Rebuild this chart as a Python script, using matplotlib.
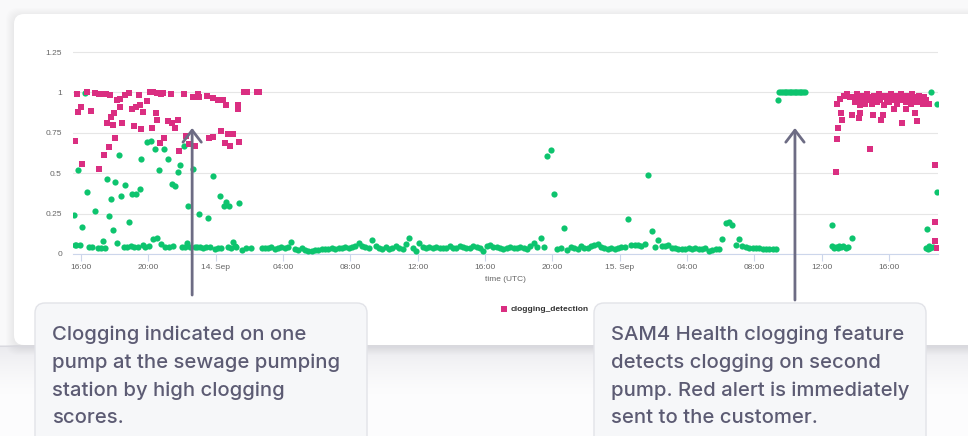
import numpy as np
import matplotlib as mpl
mpl.use("agg")
import matplotlib.pyplot as plt
from matplotlib.patches import FancyBboxPatch


W, H = 968, 436

PINK = "#da2e81"
GREEN = "#0dc46e"
TEXT = "#5c5b73"
ARROW = "#6d6c84"

# hours since 13 Sep 00:00 (UTC)
x_ticks = [16, 20, 24, 28, 32, 36, 40, 44, 48, 52, 56, 60, 64]
x_tick_labels = ["16:00", "20:00", "14. Sep", "04:00", "08:00", "12:00", "16:00",
                 "20:00", "15. Sep", "04:00", "08:00", "12:00", "16:00"]
y_ticks = [0, 0.25, 0.5, 0.75, 1, 1.25]
y_tick_labels = ["0", "0.25", "0.5", "0.75", "1", "1.25"]

# clogging_detection, first pump (13-14 Sep)
pink_early_h = [15.64, 15.78, 15.84, 16.02, 16.08, 16.38, 16.58, 16.84, 17.08, 17.28,
                17.50, 17.74, 17.08, 17.34, 17.64, 17.54, 17.88, 17.80, 17.98, 18.04,
                18.14, 18.30, 18.34, 18.44, 18.60, 18.84, 19.04, 19.24, 19.14, 19.44,
                19.50, 19.58, 19.70, 20.10, 20.30, 20.50, 20.74, 19.94, 20.24, 20.44,
                20.54, 20.70, 20.90, 20.84, 21.14, 21.34, 21.40, 21.58, 21.74, 21.84,
                22.10, 22.24, 22.44, 22.64, 22.74, 22.94, 23.00, 23.50, 23.58, 23.84,
                23.84, 24.14, 24.34, 24.44, 24.30, 24.54, 24.64, 24.74, 24.82, 25.04,
                25.30, 25.34, 25.40, 25.68, 25.88, 26.44, 26.58]
pink_early_v = [0.70, 0.99, 0.88, 0.91, 0.555, 1.0, 0.886, 0.995, 0.99, 0.99,
                0.99, 0.985, 0.525, 0.61, 0.66, 0.81, 0.80, 0.845, 0.87, 0.72,
                0.95, 0.96, 0.91, 0.81, 0.985, 0.995, 0.90, 0.91, 0.79, 0.985,
                0.925, 0.775, 0.88, 1.0, 1.0, 0.995, 0.99, 0.945, 0.78, 0.875,
                0.83, 0.685, 0.715, 0.995, 0.82, 0.99, 0.81, 0.78, 0.83, 0.64,
                0.99, 0.73, 0.68, 0.97, 0.67, 0.99, 0.97, 0.98, 0.72, 0.725,
                0.965, 0.95, 0.95, 0.955, 0.76, 0.685, 0.92, 0.745, 0.67, 0.74,
                0.92, 0.895, 0.69, 1.0, 1.0, 1.0, 1.0]

# clogging_detection, second pump (15 Sep afternoon)
pink_late_h = [60.83, 60.89, 60.93, 60.99, 61.09, 61.13, 61.23, 61.33, 61.52, 61.70,
               61.82, 62.20, 62.30, 62.87, 63.07, 63.55, 63.67, 64.30, 64.76, 65.00,
               65.53, 65.65, 66.38, 66.76, 66.76, 66.72, 66.84]
pink_late_v = [0.507, 0.714, 0.93, 0.78, 0.96, 0.87, 0.83, 0.98, 0.99, 0.97,
               0.86, 0.84, 0.875, 0.652, 0.86, 0.83, 0.86, 0.90, 0.81, 0.90,
               0.87, 0.82, 0.93, 0.55, 0.197, 0.08, 0.04]
pink_cluster_start, pink_cluster_step = 61.9, 0.1
pink_cluster_v = [0.97, 0.94, 0.99, 0.95, 0.92, 0.98, 0.96, 0.93, 0.99, 0.95, 0.97,
                  0.93, 0.98, 0.96, 0.94, 0.99, 0.95, 0.97, 0.92, 0.98, 0.96, 0.94,
                  0.99, 0.97, 0.95, 0.98, 0.93, 0.96, 0.99, 0.95, 0.97, 0.94, 0.98,
                  0.96, 0.93, 0.99, 0.95, 0.97, 0.94, 0.98, 0.95, 0.93, 0.97, 0.95]

# second series (green), scattered part 13 Sep
green_early_h = [15.58, 15.62, 15.72, 15.80, 15.94, 16.04, 16.24, 16.38, 16.50, 16.66,
                 16.82, 16.98, 17.16, 17.30, 17.44, 17.54, 17.64, 17.78, 17.88, 18.02,
                 18.14, 18.24, 18.40, 18.54, 18.60, 18.72, 18.84, 18.96, 19.04, 19.14,
                 19.24, 19.36, 19.50, 19.58, 19.70, 19.82, 19.94, 20.06, 20.18, 20.30,
                 20.40, 20.54, 20.64, 20.74, 20.90, 20.98, 21.14, 21.22, 21.38, 21.46,
                 21.60, 21.74, 21.88, 21.98, 22.10, 22.20, 22.28, 22.38, 22.48, 22.68,
                 22.76, 22.86, 22.98, 23.08, 23.24, 23.40, 23.54, 23.68, 23.86, 23.98,
                 24.14, 24.24, 24.34, 24.50, 24.64, 24.72, 24.80, 24.90, 25.04, 25.12,
                 25.20, 25.38, 25.54, 25.80, 26.10, 26.74]
green_early_v = [0.24, 0.054, 0.054, 0.52, 0.054, 0.17, 0.995, 0.385, 0.043, 0.043,
                 0.265, 0.037, 0.040, 0.079, 0.037, 0.465, 0.235, 0.34, 0.15, 0.445,
                 0.068, 0.61, 0.36, 0.043, 0.43, 0.043, 0.20, 0.048, 0.37, 0.045,
                 0.37, 0.043, 0.405, 0.585, 0.058, 0.041, 0.695, 0.048, 0.70, 0.093,
                 0.65, 0.099, 0.52, 0.062, 0.65, 0.041, 0.59, 0.041, 0.435, 0.048,
                 0.42, 0.51, 0.55, 0.043, 0.67, 0.045, 0.068, 0.30, 0.043, 0.525,
                 0.041, 0.045, 0.245, 0.043, 0.037, 0.041, 0.22, 0.041, 0.48, 0.031,
                 0.040, 0.36, 0.037, 0.30, 0.32, 0.043, 0.30, 0.037, 0.072, 0.050,
                 0.041, 0.315, 0.027, 0.037, 0.037, 0.037]

# green baseline, 12-minute readings from 14 Sep 02:54
green_base_start, green_base_step = 26.9, 0.2
green_base_v = [0.037, 0.037, 0.043, 0.033, 0.037, 0.041, 0.037, 0.045, 0.072, 0.033,
                0.027, 0.037, 0.025, 0.017, 0.020, 0.025, 0.027, 0.030, 0.033, 0.030,
                0.037, 0.033, 0.040, 0.037, 0.043, 0.040, 0.045, 0.050, 0.070, 0.050,
                0.045, 0.040, 0.089, 0.050, 0.040, 0.033, 0.045, 0.030, 0.040, 0.050,
                0.037, 0.030, 0.060, 0.100, 0.040, 0.020, 0.068, 0.045, 0.040, 0.045,
                0.040, 0.043, 0.037, 0.035, 0.040, 0.047, 0.035, 0.040, 0.050, 0.045,
                0.037, 0.040, 0.048, 0.045, 0.035, 0.020, 0.050, 0.055, 0.043, 0.045,
                0.040, 0.033, 0.040, 0.045, 0.040, 0.037, 0.045, 0.040, 0.033, 0.050,
                0.070, 0.045, 0.100, 0.045, 0.607, 0.644, 0.373, 0.030, 0.035, 0.160,
                0.025, 0.045, 0.035, 0.030, 0.050, 0.040, 0.035, 0.050, 0.055, 0.064,
                0.045, 0.035, 0.030, 0.035, 0.033, 0.040, 0.045, 0.043, 0.217, 0.058,
                0.055, 0.058, 0.050, 0.060, 0.487, 0.145, 0.043, 0.085, 0.048, 0.050,
                0.055, 0.040, 0.035, 0.030, 0.033, 0.030, 0.035, 0.030, 0.040, 0.033,
                0.028, 0.035, 0.017, 0.025, 0.030, 0.030, 0.095, 0.190, 0.200, 0.180,
                0.056, 0.095, 0.050, 0.045, 0.040, 0.038, 0.035, 0.035, 0.033, 0.030,
                0.033, 0.030, 0.033]

# green plateau (second pump clogging) and late points
green_late_h = [57.43, 57.50, 57.60, 57.70, 57.80, 57.90, 58.00, 58.10, 58.20, 58.30,
                58.40, 58.50, 58.60, 58.70, 58.80, 58.90, 59.00,
                60.60, 60.65, 60.75, 60.85, 60.95, 61.05, 61.15, 61.30, 61.45, 61.60,
                61.82, 66.20, 66.25, 66.30, 66.38, 66.45, 66.52, 66.60, 66.84, 66.88]
green_late_v = [0.953, 1.0, 1.0, 1.0, 1.0, 1.0, 1.0, 1.0, 1.0, 1.0,
                1.0, 1.0, 1.0, 1.0, 1.0, 1.0, 1.0,
                0.18, 0.05, 0.035, 0.045, 0.04, 0.05, 0.045, 0.05, 0.04, 0.045,
                0.10, 0.04, 0.155, 0.03, 0.05, 0.035, 1.0, 0.045, 0.926, 0.383]

note_left = "Clogging indicated on one\npump at the sewage pumping\nstation by high clogging\nscores."
note_right = ("SAM4 Health clogging feature\ndetects clogging on second\n"
              "pump. Red alert is immediately\nsent to the customer.")

x_min, x_max = 15.52, 66.92
y_min, y_max = 0.0, 1.27


fig = plt.figure(figsize=(W / 100, H / 100), dpi=100)
fig.patch.set_facecolor("#f9f9fa")

# background layer in pixel coordinates: card, shadows
bg = fig.add_axes([0, 0, 1, 1], zorder=0)
bg.set_xlim(0, W)
bg.set_ylim(H, 0)
bg.axis("off")

bg.add_patch(plt.Rectangle((0, 346), W, 90, facecolor="#fcfcfd", edgecolor="none", zorder=0))
grad = np.ones((50, 1, 4))
grad[..., :3] = np.array([0.90, 0.90, 0.92])
grad[:, 0, 3] = np.linspace(0.85, 0.0, 50) ** 1.5
bg.imshow(grad, extent=(0, W, 396, 346), aspect="auto", zorder=0.5)

for k in range(1, 9):
    bg.add_patch(FancyBboxPatch((14 - k, 14 - k + 2), 1000 + 2 * k, 331 + 2 * k,
                                boxstyle="round,pad=0,rounding_size=12",
                                facecolor="#000000", edgecolor="none", alpha=0.006,
                                zorder=1))
bg.add_patch(FancyBboxPatch((14, 14), 1000, 331, boxstyle="round,pad=0,rounding_size=10",
                            facecolor="white", edgecolor="none", zorder=2))
bg.plot([0, W], [345.5, 345.5], color="#d9d9df", lw=0.8, zorder=1.5)
bg.set_xlim(0, W)
bg.set_ylim(H, 0)

# chart
ax_l, ax_r, ax_b = 73, 938, 254
ax_h = (y_max - y_min) * 161.6
ax = fig.add_axes([ax_l / W, 1 - ax_b / H, (ax_r - ax_l) / W, ax_h / H], zorder=1)
ax.set_facecolor("none")

pink_cluster_h = pink_cluster_start + pink_cluster_step * np.arange(len(pink_cluster_v))
green_base_h = green_base_start + green_base_step * np.arange(len(green_base_v))

green_h = np.concatenate([green_early_h, green_base_h, green_late_h])
green_v = np.concatenate([green_early_v, green_base_v, green_late_v])
pink_h = np.concatenate([pink_early_h, pink_late_h, pink_cluster_h])
pink_v = np.concatenate([pink_early_v, pink_late_v, pink_cluster_v])

ax.scatter(green_h, green_v, s=20, marker="o", color=GREEN, linewidths=0, zorder=3)
pink_sc = ax.scatter(pink_h, pink_v, s=24, marker="s", color=PINK, linewidths=0, zorder=4)

ax.set_xlim(x_min, x_max)
ax.set_ylim(y_min, y_max)
ax.set_xticks(x_ticks)
ax.set_xticklabels(x_tick_labels)
ax.set_yticks(y_ticks)
ax.set_yticklabels(y_tick_labels)
for s in ["top", "right", "left"]:
    ax.spines[s].set_visible(False)
ax.spines["bottom"].set_color("#ccd6eb")
ax.spines["bottom"].set_linewidth(0.8)
ax.grid(axis="y", color="#e6e6e6", lw=0.8)
ax.set_axisbelow(True)
ax.tick_params(axis="x", length=5, width=0.8, color="#ccd6eb", pad=2,
               labelsize=6, labelcolor="#666666")
ax.tick_params(axis="y", length=0, pad=8, labelsize=6, labelcolor="#666666")
for lab in ax.get_xticklabels() + ax.get_yticklabels():
    lab.set_family("Liberation Sans")
ax.set_xlabel("time (UTC)", fontsize=6, color="#666666", family="Liberation Sans", labelpad=4)

arrow_kw = dict(arrowstyle="->,head_length=0.86,head_width=0.66", color=ARROW, lw=2.0,
                shrinkA=0, shrinkB=0)
ax.annotate("", xy=(22.6, 0.78), xytext=(22.6, -0.254), xycoords="data",
            textcoords="data", arrowprops=arrow_kw, annotation_clip=False, zorder=6)
ax.annotate("", xy=(58.42, 0.78), xytext=(58.42, -0.285), xycoords="data",
            textcoords="data", arrowprops=arrow_kw, annotation_clip=False, zorder=6)

leg = fig.legend(handles=[pink_sc], labels=["clogging_detection"], loc="center left",
                 bbox_to_anchor=(497 / W, 1 - 309 / H), frameon=False, borderpad=0,
                 handlelength=0.7, handletextpad=0.4, markerscale=0.75,
                 prop={"family": "Liberation Sans", "size": 6, "weight": "bold"})
for t in leg.get_texts():
    t.set_color("#333333")
leg.set_zorder(3)

# annotation boxes on top
fr = fig.add_axes([0, 0, 1, 1], zorder=6)
fr.set_facecolor("none")
fr.set_xlim(0, W)
fr.set_ylim(H, 0)
fr.axis("off")

for x0, txt in [(35, note_left), (594, note_right)]:
    fr.add_patch(FancyBboxPatch((x0, 303), 332, 150, boxstyle="round,pad=0,rounding_size=10",
                                facecolor="#f6f7f9", edgecolor="#e2e3e8", lw=1.0))
    fr.text(x0 + 17, 325, txt, family="Inter", fontsize=14.6, weight="medium",
            color=TEXT, va="top", ha="left", linespacing=1.66)
fr.set_xlim(0, W)
fr.set_ylim(H, 0)

fig.savefig("out.png", dpi=100, facecolor=fig.get_facecolor())
